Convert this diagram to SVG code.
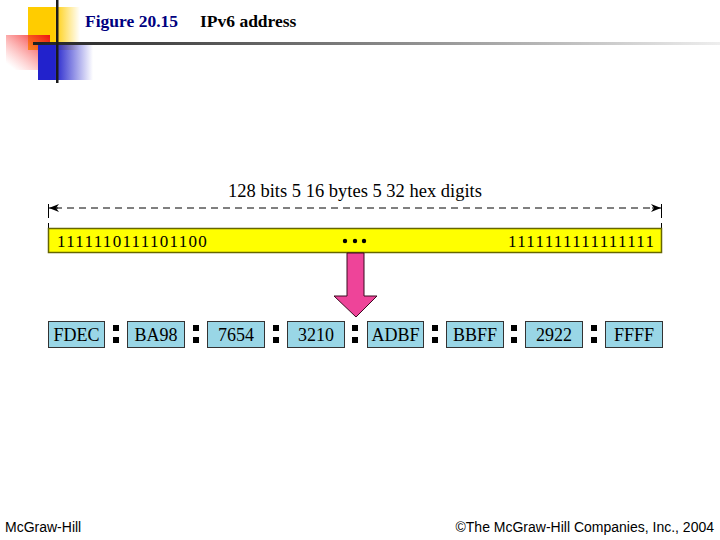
<svg xmlns="http://www.w3.org/2000/svg" width="720" height="540" viewBox="0 0 720 540">
<defs>
<linearGradient id="gy" x1="0" y1="0" x2="1" y2="0"><stop offset="0.5" stop-color="#FFCC00"/><stop offset="1" stop-color="#FFCC00" stop-opacity="0"/></linearGradient>
<linearGradient id="gr" x1="1" y1="0" x2="0" y2="1"><stop offset="0" stop-color="#EE1111"/><stop offset="0.9" stop-color="#FF6666" stop-opacity="0"/></linearGradient>
<linearGradient id="gb" x1="0" y1="0" x2="1" y2="0"><stop offset="0.3" stop-color="#2222CC"/><stop offset="1" stop-color="#2222CC" stop-opacity="0"/></linearGradient>
<linearGradient id="gl" x1="0" y1="0" x2="1" y2="0"><stop offset="0" stop-color="#222222"/><stop offset="0.6" stop-color="#999999"/><stop offset="1" stop-color="#eeeeee"/></linearGradient>
<marker id="ah" viewBox="0 0 10 8" refX="10" refY="4" markerWidth="10" markerHeight="8" markerUnits="userSpaceOnUse" orient="auto"><path d="M0,0 L10,4 L0,8 L3,4 Z" fill="#000"/></marker>
</defs>
<style>
.box{fill:#99D6E6;stroke:#333;stroke-width:1}
.bt{font-family:"Liberation Serif",serif;font-size:18px;fill:#000;text-anchor:middle}
.col{fill:#000}
.bin{font-family:"Liberation Serif",serif;font-size:17px;letter-spacing:1.3px;fill:#000}
</style>
<rect width="720" height="540" fill="#fff"/>
<g id="decor">
<rect x="28" y="7" width="52" height="43" fill="url(#gy)"/>
<rect x="6" y="35" width="44" height="35" fill="url(#gr)"/>
<rect x="38" y="43" width="55" height="37" fill="url(#gb)"/>
<rect x="33" y="42" width="687" height="3" fill="url(#gl)"/>
<rect x="56" y="0" width="2.5" height="83" fill="#1a1a1a"/>
</g>
<g id="title" font-family="Liberation Serif, serif" font-size="17.5" font-weight="bold">
<text x="85" y="27" fill="#000080">Figure 20.15</text>
<text x="200" y="27" fill="#000">IPv6 address</text>
</g>
<g id="dimension">
<text x="355" y="197" font-family="Liberation Serif, serif" font-size="18.5" text-anchor="middle" fill="#000">128 bits 5 16 bytes 5 32 hex digits</text>
<line x1="55" y1="208" x2="656" y2="208" stroke="#000" stroke-width="1" stroke-dasharray="7,5"/>
<line x1="58" y1="208" x2="49" y2="208" stroke="#000" marker-end="url(#ah)"/>
<line x1="652" y1="208" x2="661" y2="208" stroke="#000" marker-end="url(#ah)"/>
<line x1="48.5" y1="204" x2="48.5" y2="212" stroke="#000"/>
<line x1="48.5" y1="212" x2="48.5" y2="228" stroke="#000" stroke-dasharray="6,5"/>
<line x1="661.5" y1="204" x2="661.5" y2="212" stroke="#000"/>
<line x1="661.5" y1="212" x2="661.5" y2="228" stroke="#000" stroke-dasharray="6,5"/>
</g>
<g id="bitbar">
<rect x="48.5" y="228.5" width="613" height="24" fill="#FFFF00" stroke="#666600" stroke-width="1.5"/>
<text class="bin" x="57" y="246.5">1111110111101100</text>
<text class="bin" x="508" y="246.5">1111111111111111</text>
<circle cx="345" cy="241" r="2.2" fill="#000"/>
<circle cx="355" cy="241" r="2.2" fill="#000"/>
<circle cx="364" cy="241" r="2.2" fill="#000"/>
</g>
<g id="connectors">
<path d="M347,253 L364,253 L364,296 L377,296 L356,317 L334,296 L347,296 Z" fill="#EE4499" stroke="#3a0a20" stroke-width="1"/>
</g>
<g id="hex">
<g id="n1"><rect class="box" x="48.5" y="321.5" width="56" height="26"/><text class="bt" x="76.5" y="341">FDEC</text></g>
<g id="n2"><rect class="box" x="127.5" y="321.5" width="57" height="26"/><text class="bt" x="156" y="341">BA98</text></g>
<g id="n3"><rect class="box" x="207.5" y="321.5" width="57" height="26"/><text class="bt" x="236" y="341">7654</text></g>
<g id="n4"><rect class="box" x="287.5" y="321.5" width="57" height="26"/><text class="bt" x="316" y="341">3210</text></g>
<g id="n5"><rect class="box" x="367.5" y="321.5" width="56" height="26"/><text class="bt" x="395.5" y="341">ADBF</text></g>
<g id="n6"><rect class="box" x="446.5" y="321.5" width="57" height="26"/><text class="bt" x="475" y="341">BBFF</text></g>
<g id="n7"><rect class="box" x="525.5" y="321.5" width="57" height="26"/><text class="bt" x="554" y="341">2922</text></g>
<g id="n8"><rect class="box" x="605.5" y="321.5" width="57" height="26"/><text class="bt" x="634" y="341">FFFF</text></g>
</g>
<g id="colons">
<rect class="col" x="113" y="325" width="6" height="6"/><rect class="col" x="113" y="337" width="6" height="6"/>
<rect class="col" x="193" y="325" width="6" height="6"/><rect class="col" x="193" y="337" width="6" height="6"/>
<rect class="col" x="273" y="325" width="6" height="6"/><rect class="col" x="273" y="337" width="6" height="6"/>
<rect class="col" x="352" y="325" width="6" height="6"/><rect class="col" x="352" y="337" width="6" height="6"/>
<rect class="col" x="432" y="325" width="6" height="6"/><rect class="col" x="432" y="337" width="6" height="6"/>
<rect class="col" x="511" y="325" width="6" height="6"/><rect class="col" x="511" y="337" width="6" height="6"/>
<rect class="col" x="591" y="325" width="6" height="6"/><rect class="col" x="591" y="337" width="6" height="6"/>
</g>
<g id="footer" font-family="Liberation Sans, Arial, sans-serif" font-size="14" fill="#000">
<text x="5" y="532">McGraw-Hill</text>
<text x="714" y="532" text-anchor="end">©The McGraw-Hill Companies, Inc., 2004</text>
</g>
</svg>
